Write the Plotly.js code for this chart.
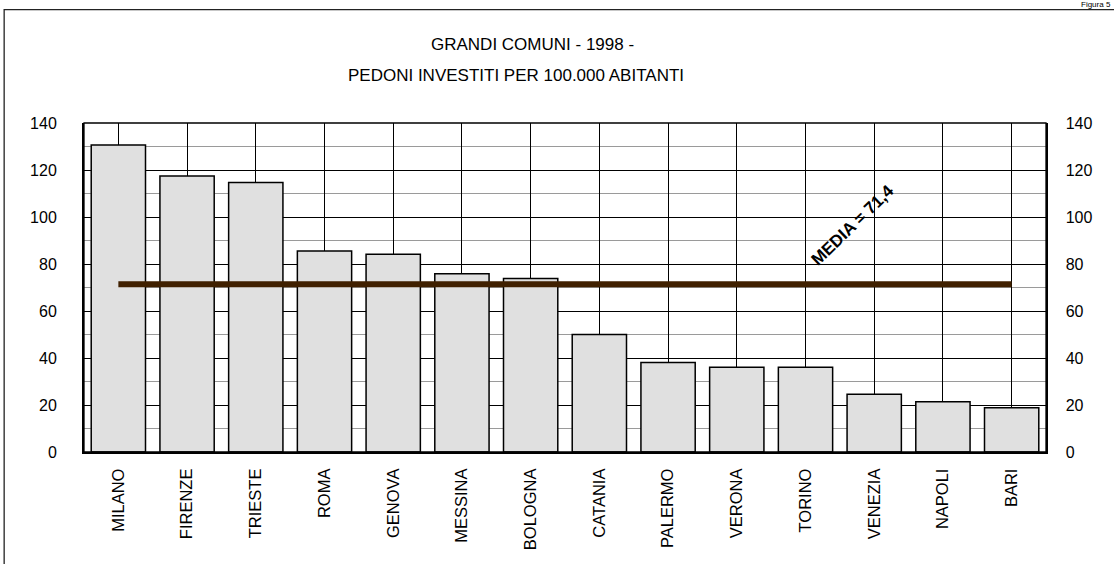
<!DOCTYPE html>
<html>
<head>
<meta charset="utf-8">
<script src="https://cdn.plot.ly/plotly-3.0.1.min.js"></script>
<style>html,body{margin:0;padding:0;background:#fff;}#chart{width:1114px;height:564px;}</style>
</head>
<body>
<div id="chart"></div>
<script>
var cities = ["MILANO","FIRENZE","TRIESTE","ROMA","GENOVA","MESSINA","BOLOGNA","CATANIA","PALERMO","VERONA","TORINO","VENEZIA","NAPOLI","BARI"];
var pedoni = [130.6, 117.4, 114.7, 85.5, 84.2, 75.9, 73.8, 50.0, 38.1, 36.1, 36.1, 24.6, 21.4, 18.8];
var media = 71.4;
var mediaLabel = "MEDIA = 71,4";
var titleLine1 = "GRANDI COMUNI - 1998 -";
var titleLine2 = "PEDONI INVESTITI PER 100.000 ABITANTI";
var figLabel = "Figura 5";

var FONT = "Liberation Sans, Arial, sans-serif";

var traces = [
  {
    type: "bar", x: cities, y: pedoni,
    marker: {color: "#e0e0e0", line: {color: "#000", width: 1.5}},
    hoverinfo: "x+y", showlegend: false
  },
  {
    type: "scatter", mode: "lines",
    x: [cities[0], cities[cities.length - 1]], y: [media, media],
    line: {color: "#402000", width: 6},
    hoverinfo: "skip", showlegend: false
  },
  {
    type: "scatter", mode: "markers", x: cities, y: pedoni, yaxis: "y2",
    marker: {opacity: 0}, hoverinfo: "skip", showlegend: false
  }
];

var layout = {
  width: 1114, height: 564,
  margin: {l: 84, r: 68, t: 123, b: 112},
  paper_bgcolor: "#fff", plot_bgcolor: "#fff",
  font: {family: FONT, color: "#000", size: 16},
  bargap: 0.21,
  showlegend: false,
  xaxis: {
    type: "category",
    range: [-0.5, 13.5],
    showgrid: true, gridcolor: "#000", gridwidth: 1,
    showline: true, linecolor: "#000", linewidth: 2,
    tickangle: -90, ticks: "", ticklabelstandoff: 8,
    tickfont: {family: FONT, size: 16.5, color: "#000"},
    zeroline: false
  },
  yaxis: {
    range: [0, 140], tickmode: "linear", tick0: 0, dtick: 20,
    showgrid: true, gridcolor: "#000", gridwidth: 1,
    minor: {tickmode: "linear", tick0: 0, dtick: 10, showgrid: true, gridcolor: "#9a9a9a", gridwidth: 1, ticks: ""},
    showline: true, linecolor: "#000", linewidth: 2,
    ticks: "", ticklabelstandoff: 22,
    tickfont: {family: FONT, size: 16, color: "#000"},
    zeroline: false
  },
  yaxis2: {
    range: [0, 140], tickmode: "linear", tick0: 0, dtick: 20, overlaying: "y", side: "right",
    showgrid: false, showline: true, linecolor: "#000", linewidth: 1.5,
    ticks: "", ticklabelstandoff: 15,
    tickfont: {family: FONT, size: 16, color: "#000"},
    zeroline: false
  },
  shapes: [
    {type: "rect", xref: "paper", yref: "paper", x0: 0, x1: 1, y0: 0, y1: 1,
     line: {color: "#000", width: 1.3}, layer: "above"},
    {type: "rect", xref: "paper", yref: "paper", x0: -0.083, x1: 1.2, y0: -0.5, y1: 1.3445,
     line: {color: "#222", width: 1.3}, layer: "below"}
  ],
  annotations: [
    {text: titleLine1, xref: "paper", yref: "paper", x: (532 - 84) / 962, y: (452 - 45) / 329,
     xanchor: "center", yanchor: "middle", showarrow: false,
     font: {family: FONT, size: 17, color: "#000"}},
    {text: titleLine2, xref: "paper", yref: "paper", x: (516 - 84) / 962, y: (452 - 75) / 329,
     xanchor: "center", yanchor: "middle", showarrow: false,
     font: {family: FONT, size: 17, color: "#000"}},
    {text: "<b>" + mediaLabel + "</b>", xref: "x", yref: "y", x: 10.68, y: 96.5,
     xanchor: "center", yanchor: "middle", showarrow: false, textangle: -44,
     font: {family: FONT, size: 17, color: "#000"}},
    {text: figLabel, xref: "paper", yref: "paper", x: (1112 - 84) / 962, y: (452 - 4) / 329,
     xanchor: "right", yanchor: "middle", showarrow: false, borderpad: 0,
     font: {family: FONT, size: 8, color: "#000"}}
  ]
};

Plotly.newPlot("chart", traces, layout, {displayModeBar: false, staticPlot: true});
</script>
</body>
</html>
